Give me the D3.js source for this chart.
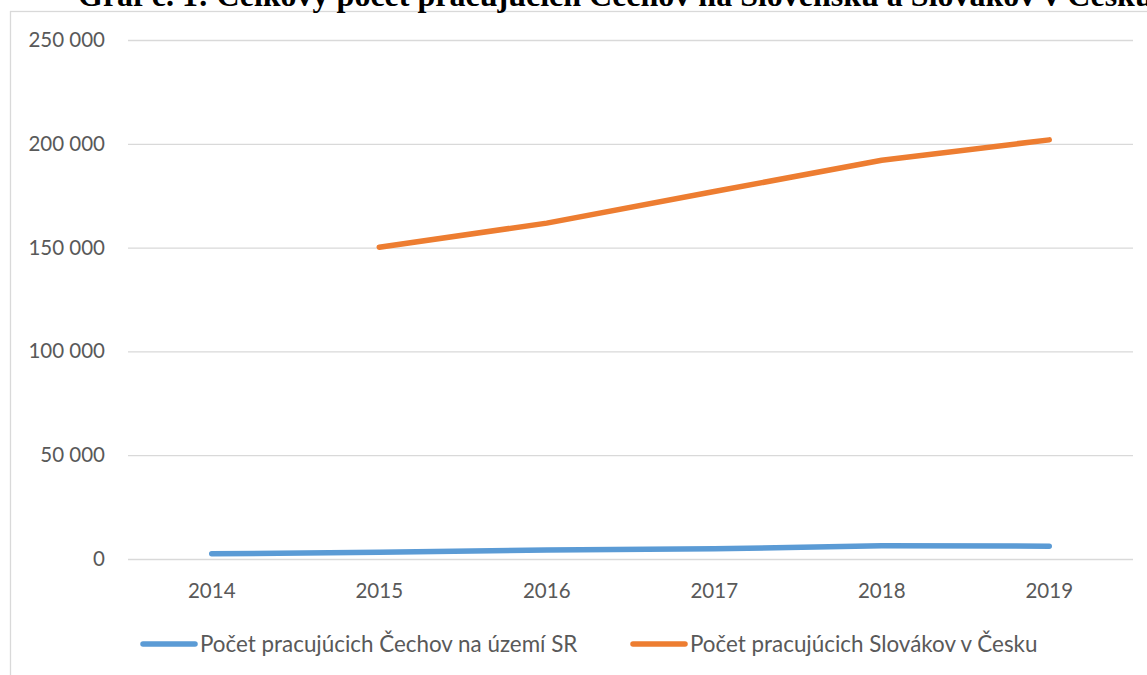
<!DOCTYPE html>
<html><head><meta charset="utf-8">
<script src="https://cdn.jsdelivr.net/npm/d3@7"></script>
<style>body{margin:0;background:#fff}svg{display:block}</style>
</head><body>
<script>
const title = "Graf č. 1: Celkový počet pracujúcich Čechov na Slovensku a Slovákov v Česku";
const years = ["2014","2015","2016","2017","2018","2019"];
const czechsInSK = [2500, 3200, 4300, 4900, 6400, 6200];
const slovaksInCZ = [null, 150200, 161800, 177000, 192100, 201900];
const seriesNames = ["Počet pracujúcich Čechov na území SR", "Počet pracujúcich Slovákov v Česku"];
const yTicks = [0, 50000, 100000, 150000, 200000, 250000];

const W = 1147, H = 675;
const svg = d3.select("body").append("svg").attr("width", W).attr("height", H);

// chart frame
svg.append("rect").attr("x", 10.5).attr("y", 11.5).attr("width", 1300).attr("height", 800)
  .attr("fill", "none").attr("stroke", "#d9d9d9").attr("stroke-width", 1.3);

svg.append("text").attr("x", 78).attr("y", 6)
  .attr("font-family", "Liberation Serif, Times New Roman, serif")
  .attr("font-weight", "bold").attr("font-size", 32).attr("fill", "#000")
  .text(title);

const x = d3.scaleBand().domain(years).range([128, 1133]);
const y = d3.scaleLinear().domain([0, 250000]).range([559, 40]);

const fmt = v => d3.format(",")(v).replace(/,/g, " ");
const font = "Lato, 'Open Sans', sans-serif";

// gridlines
const yAxis = d3.axisLeft(y).tickValues(yTicks).tickSize(-(1133 - 128)).tickFormat(fmt).tickPadding(23);
const gy = svg.append("g").attr("transform", "translate(128,0)").call(yAxis);
gy.select(".domain").remove();
gy.selectAll(".tick line").attr("stroke", "#d9d9d9").attr("stroke-width", 1.3);
gy.selectAll(".tick text").attr("font-family", font).attr("font-size", 20.5).attr("fill", "#595959");

const xAxis = d3.axisBottom(x).tickSize(0).tickPadding(24);
const gx = svg.append("g").attr("transform", "translate(0,559)").call(xAxis);
gx.select(".domain").remove();
gx.selectAll(".tick text").attr("font-family", font).attr("font-size", 20.5).attr("fill", "#595959");

const cx = d => x(d) + x.bandwidth() / 2;
const line = d3.line().defined(d => d.v != null).x(d => cx(d.year)).y(d => y(d.v));

const series = [
  { name: seriesNames[0], color: "#5b9bd5", values: years.map((yr, i) => ({ year: yr, v: czechsInSK[i] })) },
  { name: seriesNames[1], color: "#ed7d31", values: years.map((yr, i) => ({ year: yr, v: slovaksInCZ[i] })) }
];

series.forEach(s => {
  svg.append("path").attr("d", line(s.values)).attr("fill", "none")
    .attr("stroke", s.color).attr("stroke-width", 5.5)
    .attr("stroke-linecap", "round").attr("stroke-linejoin", "round");
});

// legend
const legX = [143, 633];
series.forEach((s, i) => {
  const g = svg.append("g").attr("transform", `translate(${legX[i]},644)`);
  g.append("line").attr("x1", 0).attr("x2", 52).attr("y1", 0).attr("y2", 0)
    .attr("stroke", s.color).attr("stroke-width", 5.5).attr("stroke-linecap", "round");
  g.append("text").attr("x", 57).attr("y", 0).attr("dy", "0.35em")
    .attr("font-family", font).attr("font-size", 22.4).attr("fill", "#595959").text(s.name);
});
</script>
</body></html>
